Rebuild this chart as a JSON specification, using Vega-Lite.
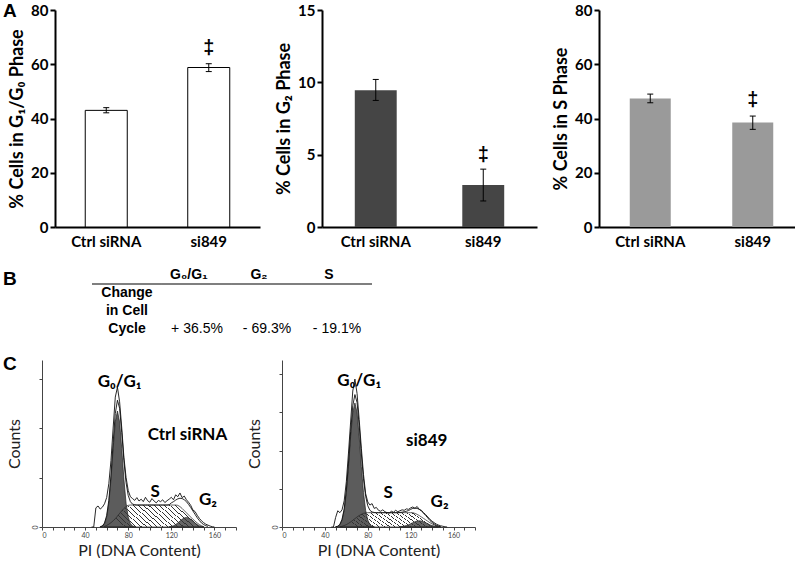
{
  "$schema": "https://vega.github.io/schema/vega-lite/v6.json",
  "padding": {"left": 3, "top": 2, "right": 0, "bottom": 0},
  "background": "white",
  "config": {
    "view": {"stroke": null},
    "font": "Lato",
    "title": {"font": "Liberation Sans", "fontSize": 19, "fontWeight": "bold", "color": "black", "anchor": "start", "frame": "group", "align": "left"}
  },
  "datasets": {
    "bars": [
      {"phase": "G1", "group": "Ctrl siRNA", "value": 43.0, "lo": 42.1, "hi": 44.0, "sig": ""},
      {"phase": "G1", "group": "si849", "value": 58.8, "lo": 57.3, "hi": 60.2, "sig": "‡"},
      {"phase": "G2", "group": "Ctrl siRNA", "value": 9.45, "lo": 8.75, "hi": 10.2, "sig": ""},
      {"phase": "G2", "group": "si849", "value": 2.9, "lo": 1.8, "hi": 4.0, "sig": "‡"},
      {"phase": "S", "group": "Ctrl siRNA", "value": 47.4, "lo": 45.8, "hi": 49.0, "sig": ""},
      {"phase": "S", "group": "si849", "value": 38.5, "lo": 36.0, "hi": 40.9, "sig": "‡"}
    ],
    "table": [
      {"col": "g01", "row": "h", "text": "G₀/G₁", "kind": "header"},
      {"col": "g2", "row": "h", "text": "G₂", "kind": "header"},
      {"col": "s", "row": "h", "text": "S", "kind": "header"},
      {"col": "label", "row": "r1", "text": "Change", "kind": "label"},
      {"col": "label", "row": "r2", "text": "in Cell", "kind": "label"},
      {"col": "label", "row": "r3", "text": "Cycle", "kind": "label"},
      {"col": "g01", "row": "r3", "text": "+ 36.5%", "kind": "value"},
      {"col": "g2", "row": "r3", "text": "- 69.3%", "kind": "value"},
      {"col": "s", "row": "r3", "text": "- 19.1%", "kind": "value"}
    ],
    "h1": [
      {"x": 46, "raw": 0, "fit": 0, "g1": 0, "s": 0, "g2": 0},
      {"x": 48, "raw": 0, "fit": 0, "g1": 0, "s": 0, "g2": 0},
      {"x": 50, "raw": 62, "fit": 0, "g1": 0, "s": 0, "g2": 0},
      {"x": 52, "raw": 68, "fit": 0, "g1": 0, "s": 0, "g2": 0},
      {"x": 54, "raw": 58, "fit": 1, "g1": 1, "s": 0, "g2": 0},
      {"x": 56, "raw": 64, "fit": 3, "g1": 3, "s": 0, "g2": 0},
      {"x": 58, "raw": 75, "fit": 13, "g1": 11, "s": 2, "g2": 0},
      {"x": 60, "raw": 95, "fit": 37, "g1": 32, "s": 5, "g2": 0},
      {"x": 62, "raw": 140, "fit": 86, "g1": 77, "s": 9, "g2": 0},
      {"x": 64, "raw": 215, "fit": 168, "g1": 154, "s": 14, "g2": 0},
      {"x": 66, "raw": 320, "fit": 273, "g1": 253, "s": 20, "g2": 0},
      {"x": 68, "raw": 420, "fit": 367, "g1": 340, "s": 27, "g2": 0},
      {"x": 70, "raw": 452, "fit": 410, "g1": 375, "s": 35, "g2": 0},
      {"x": 72, "raw": 405, "fit": 384, "g1": 340, "s": 44, "g2": 0},
      {"x": 74, "raw": 320, "fit": 305, "g1": 253, "s": 52, "g2": 0},
      {"x": 76, "raw": 225, "fit": 214, "g1": 154, "s": 60, "g2": 0},
      {"x": 78, "raw": 160, "fit": 143, "g1": 77, "s": 66, "g2": 0},
      {"x": 80, "raw": 118, "fit": 102, "g1": 32, "s": 70, "g2": 0},
      {"x": 82, "raw": 98, "fit": 82, "g1": 11, "s": 71, "g2": 0},
      {"x": 84, "raw": 92, "fit": 74, "g1": 3, "s": 71, "g2": 0},
      {"x": 86, "raw": 86, "fit": 72, "g1": 1, "s": 71, "g2": 0},
      {"x": 88, "raw": 95, "fit": 71, "g1": 0, "s": 71, "g2": 0},
      {"x": 90, "raw": 84, "fit": 71, "g1": 0, "s": 71, "g2": 0},
      {"x": 92, "raw": 90, "fit": 71, "g1": 0, "s": 71, "g2": 0},
      {"x": 94, "raw": 82, "fit": 71, "g1": 0, "s": 71, "g2": 0},
      {"x": 96, "raw": 96, "fit": 71, "g1": 0, "s": 71, "g2": 0},
      {"x": 98, "raw": 85, "fit": 71, "g1": 0, "s": 71, "g2": 0},
      {"x": 100, "raw": 80, "fit": 71, "g1": 0, "s": 71, "g2": 0},
      {"x": 102, "raw": 92, "fit": 71, "g1": 0, "s": 71, "g2": 0},
      {"x": 104, "raw": 84, "fit": 71, "g1": 0, "s": 71, "g2": 0},
      {"x": 106, "raw": 78, "fit": 71, "g1": 0, "s": 71, "g2": 0},
      {"x": 108, "raw": 86, "fit": 71, "g1": 0, "s": 71, "g2": 0},
      {"x": 110, "raw": 82, "fit": 71, "g1": 0, "s": 71, "g2": 0},
      {"x": 112, "raw": 88, "fit": 71, "g1": 0, "s": 71, "g2": 0},
      {"x": 114, "raw": 79, "fit": 71, "g1": 0, "s": 71, "g2": 0},
      {"x": 116, "raw": 85, "fit": 71, "g1": 0, "s": 71, "g2": 0},
      {"x": 118, "raw": 90, "fit": 72, "g1": 0, "s": 71, "g2": 1},
      {"x": 120, "raw": 96, "fit": 78, "g1": 0, "s": 71, "g2": 2},
      {"x": 122, "raw": 88, "fit": 82, "g1": 0, "s": 71, "g2": 4},
      {"x": 124, "raw": 104, "fit": 87, "g1": 0, "s": 71, "g2": 8},
      {"x": 126, "raw": 98, "fit": 91, "g1": 0, "s": 70, "g2": 13},
      {"x": 128, "raw": 110, "fit": 93, "g1": 0, "s": 66, "g2": 19},
      {"x": 130, "raw": 95, "fit": 92, "g1": 0, "s": 60, "g2": 25},
      {"x": 132, "raw": 100, "fit": 88, "g1": 0, "s": 53, "g2": 29},
      {"x": 134, "raw": 88, "fit": 82, "g1": 0, "s": 46, "g2": 31},
      {"x": 136, "raw": 80, "fit": 73, "g1": 0, "s": 39, "g2": 29},
      {"x": 138, "raw": 70, "fit": 63, "g1": 0, "s": 32, "g2": 25},
      {"x": 140, "raw": 55, "fit": 52, "g1": 0, "s": 25, "g2": 19},
      {"x": 142, "raw": 50, "fit": 41, "g1": 0, "s": 19, "g2": 13},
      {"x": 144, "raw": 38, "fit": 30, "g1": 0, "s": 13, "g2": 8},
      {"x": 146, "raw": 28, "fit": 21, "g1": 0, "s": 8, "g2": 4},
      {"x": 148, "raw": 20, "fit": 13, "g1": 0, "s": 4, "g2": 2},
      {"x": 150, "raw": 14, "fit": 8, "g1": 0, "s": 1, "g2": 1},
      {"x": 152, "raw": 9, "fit": 4, "g1": 0, "s": 0, "g2": 0},
      {"x": 154, "raw": 6, "fit": 2, "g1": 0, "s": 0, "g2": 0},
      {"x": 156, "raw": 3, "fit": 0, "g1": 0, "s": 0, "g2": 0},
      {"x": 158, "raw": 1, "fit": 0, "g1": 0, "s": 0, "g2": 0},
      {"x": 160, "raw": 0, "fit": 0, "g1": 0, "s": 0, "g2": 0}
    ],
    "h2": [
      {"x": 46, "raw": 0, "fit": 0, "g1": 0, "s": 0, "g2": 0},
      {"x": 48, "raw": 0, "fit": 0, "g1": 0, "s": 0, "g2": 0},
      {"x": 50, "raw": 40, "fit": 1, "g1": 1, "s": 0, "g2": 0},
      {"x": 52, "raw": 68, "fit": 3, "g1": 3, "s": 0, "g2": 0},
      {"x": 54, "raw": 60, "fit": 11, "g1": 10, "s": 1, "g2": 0},
      {"x": 56, "raw": 72, "fit": 32, "g1": 29, "s": 3, "g2": 0},
      {"x": 58, "raw": 110, "fit": 76, "g1": 70, "s": 6, "g2": 0},
      {"x": 60, "raw": 190, "fit": 155, "g1": 145, "s": 10, "g2": 0},
      {"x": 62, "raw": 310, "fit": 268, "g1": 253, "s": 15, "g2": 0},
      {"x": 64, "raw": 440, "fit": 399, "g1": 378, "s": 21, "g2": 0},
      {"x": 66, "raw": 570, "fit": 508, "g1": 480, "s": 28, "g2": 0},
      {"x": 68, "raw": 620, "fit": 555, "g1": 520, "s": 35, "g2": 0},
      {"x": 70, "raw": 560, "fit": 522, "g1": 480, "s": 42, "g2": 0},
      {"x": 72, "raw": 450, "fit": 426, "g1": 378, "s": 48, "g2": 0},
      {"x": 74, "raw": 330, "fit": 306, "g1": 253, "s": 53, "g2": 0},
      {"x": 76, "raw": 220, "fit": 202, "g1": 145, "s": 57, "g2": 0},
      {"x": 78, "raw": 140, "fit": 129, "g1": 70, "s": 59, "g2": 0},
      {"x": 80, "raw": 105, "fit": 89, "g1": 29, "s": 60, "g2": 0},
      {"x": 82, "raw": 92, "fit": 70, "g1": 10, "s": 60, "g2": 0},
      {"x": 84, "raw": 98, "fit": 63, "g1": 3, "s": 60, "g2": 0},
      {"x": 86, "raw": 78, "fit": 61, "g1": 1, "s": 60, "g2": 0},
      {"x": 88, "raw": 82, "fit": 60, "g1": 0, "s": 60, "g2": 0},
      {"x": 90, "raw": 70, "fit": 60, "g1": 0, "s": 60, "g2": 0},
      {"x": 92, "raw": 66, "fit": 60, "g1": 0, "s": 60, "g2": 0},
      {"x": 94, "raw": 72, "fit": 60, "g1": 0, "s": 60, "g2": 0},
      {"x": 96, "raw": 64, "fit": 60, "g1": 0, "s": 60, "g2": 0},
      {"x": 98, "raw": 60, "fit": 60, "g1": 0, "s": 60, "g2": 0},
      {"x": 100, "raw": 58, "fit": 60, "g1": 0, "s": 60, "g2": 0},
      {"x": 102, "raw": 66, "fit": 60, "g1": 0, "s": 60, "g2": 0},
      {"x": 104, "raw": 62, "fit": 60, "g1": 0, "s": 60, "g2": 0},
      {"x": 106, "raw": 70, "fit": 60, "g1": 0, "s": 60, "g2": 0},
      {"x": 108, "raw": 64, "fit": 60, "g1": 0, "s": 60, "g2": 0},
      {"x": 110, "raw": 68, "fit": 61, "g1": 0, "s": 60, "g2": 1},
      {"x": 112, "raw": 72, "fit": 62, "g1": 0, "s": 60, "g2": 2},
      {"x": 114, "raw": 70, "fit": 64, "g1": 0, "s": 60, "g2": 4},
      {"x": 116, "raw": 76, "fit": 66, "g1": 0, "s": 60, "g2": 6},
      {"x": 118, "raw": 74, "fit": 69, "g1": 0, "s": 60, "g2": 9},
      {"x": 120, "raw": 80, "fit": 74, "g1": 0, "s": 60, "g2": 14},
      {"x": 122, "raw": 84, "fit": 78, "g1": 0, "s": 60, "g2": 18},
      {"x": 124, "raw": 78, "fit": 79, "g1": 0, "s": 57, "g2": 22},
      {"x": 126, "raw": 86, "fit": 78, "g1": 0, "s": 53, "g2": 25},
      {"x": 128, "raw": 74, "fit": 74, "g1": 0, "s": 48, "g2": 26},
      {"x": 130, "raw": 70, "fit": 67, "g1": 0, "s": 42, "g2": 25},
      {"x": 132, "raw": 60, "fit": 58, "g1": 0, "s": 36, "g2": 22},
      {"x": 134, "raw": 52, "fit": 48, "g1": 0, "s": 30, "g2": 18},
      {"x": 136, "raw": 42, "fit": 38, "g1": 0, "s": 24, "g2": 14},
      {"x": 138, "raw": 32, "fit": 27, "g1": 0, "s": 18, "g2": 9},
      {"x": 140, "raw": 24, "fit": 19, "g1": 0, "s": 13, "g2": 6},
      {"x": 142, "raw": 18, "fit": 13, "g1": 0, "s": 9, "g2": 4},
      {"x": 144, "raw": 12, "fit": 7, "g1": 0, "s": 5, "g2": 2},
      {"x": 146, "raw": 8, "fit": 4, "g1": 0, "s": 3, "g2": 1},
      {"x": 148, "raw": 5, "fit": 1, "g1": 0, "s": 1, "g2": 0},
      {"x": 150, "raw": 3, "fit": 0, "g1": 0, "s": 0, "g2": 0},
      {"x": 152, "raw": 1, "fit": 0, "g1": 0, "s": 0, "g2": 0},
      {"x": 154, "raw": 0, "fit": 0, "g1": 0, "s": 0, "g2": 0}
    ],
    "lab1": [
      {"label": "G₀/G₁", "x": 72, "y": 470},
      {"label": "Ctrl siRNA", "x": 135, "y": 297},
      {"label": "S", "x": 105, "y": 114},
      {"label": "G₂", "x": 154, "y": 87}
    ],
    "lab2": [
      {"label": "G₀/G₁", "x": 72, "y": 612},
      {"label": "si849", "x": 135, "y": 362},
      {"label": "S", "x": 99, "y": 142},
      {"label": "G₂", "x": 147, "y": 105}
    ]
  },
  "spacing": 17,
  "vconcat": [
    {
      "spacing": 15,
      "hconcat": [
        {
          "width": 218, "height": 217,
          "title": {"text": "A", "dx": -39, "offset": -18},
          "data": {"name": "bars"},
          "transform": [{"filter": "datum.phase === 'G1'"}],
          "encoding": {
            "x": {"field": "group", "type": "nominal", "sort": null, "scale": {"range": [13, 218], "paddingInner": 0, "paddingOuter": 0},
              "axis": {"title": null, "labelAngle": 0, "ticks": false, "domainColor": "black", "domainWidth": 2, "labelFont": "Lato", "labelFontSize": 15, "labelFontWeight": "bold", "labelColor": "black", "labelPadding": 7}}
          },
          "layer": [
            {"mark": {"type": "bar", "fill": "white", "stroke": "black", "strokeWidth": 1, "width": {"band": 0.41}},
             "encoding": {"y": {"field": "value", "type": "quantitative", "scale": {"domain": [0, 80], "nice": false},
               "axis": {"title": "% Cells in G₁/G₀ Phase", "offset": -13, "values": [0, 20, 40, 60, 80], "grid": false, "domainColor": "black", "domainWidth": 2, "tickColor": "black", "tickWidth": 2, "tickSize": 5, "labelFont": "Lato", "labelFontSize": 15, "labelFontWeight": "bold", "labelColor": "black", "labelPadding": 2, "titleFont": "Lato", "titleFontSize": 18, "titleFontWeight": "bold", "titleColor": "black", "titlePadding": 4}}}},
            {"mark": {"type": "rule", "color": "black", "strokeWidth": 1}, "encoding": {"y": {"field": "lo", "type": "quantitative", "title": "% Cells in G₁/G₀ Phase"}, "y2": {"field": "hi"}}},
            {"mark": {"type": "tick", "color": "black", "thickness": 1, "size": 6, "opacity": 1}, "encoding": {"y": {"field": "lo", "type": "quantitative", "title": "% Cells in G₁/G₀ Phase"}}},
            {"mark": {"type": "tick", "color": "black", "thickness": 1, "size": 6, "opacity": 1}, "encoding": {"y": {"field": "hi", "type": "quantitative", "title": "% Cells in G₁/G₀ Phase"}}},
            {"transform": [{"filter": "datum.sig !== ''"}], "mark": {"type": "text", "font": "Liberation Sans", "fontWeight": "bold", "fontSize": 20, "dy": -16, "baseline": "middle"},
             "encoding": {"y": {"field": "hi", "type": "quantitative", "title": "% Cells in G₁/G₀ Phase"}, "text": {"field": "sig"}}}
          ]
        },
        {
          "width": 215, "height": 217,
          "data": {"name": "bars"},
          "transform": [{"filter": "datum.phase === 'G2'"}],
          "encoding": {
            "x": {"field": "group", "type": "nominal", "sort": null, "scale": {"paddingInner": 0, "paddingOuter": 0},
              "axis": {"title": null, "labelAngle": 0, "ticks": false, "domainColor": "black", "domainWidth": 2, "labelFont": "Lato", "labelFontSize": 15, "labelFontWeight": "bold", "labelColor": "black", "labelPadding": 7}}
          },
          "layer": [
            {"mark": {"type": "bar", "fill": "#454545", "width": {"band": 0.39}},
             "encoding": {"y": {"field": "value", "type": "quantitative", "scale": {"domain": [0, 15], "nice": false},
               "axis": {"title": "% Cells in G₂ Phase", "values": [0, 5, 10, 15], "grid": false, "domainColor": "black", "domainWidth": 2, "tickColor": "black", "tickWidth": 2, "tickSize": 5, "labelFont": "Lato", "labelFontSize": 15, "labelFontWeight": "bold", "labelColor": "black", "labelPadding": 2, "titleFont": "Lato", "titleFontSize": 18, "titleFontWeight": "bold", "titleColor": "black", "titlePadding": 4}}}},
            {"mark": {"type": "rule", "color": "black", "strokeWidth": 1}, "encoding": {"y": {"field": "lo", "type": "quantitative", "title": "% Cells in G₂ Phase"}, "y2": {"field": "hi"}}},
            {"mark": {"type": "tick", "color": "black", "thickness": 1, "size": 6, "opacity": 1}, "encoding": {"y": {"field": "lo", "type": "quantitative", "title": "% Cells in G₂ Phase"}}},
            {"mark": {"type": "tick", "color": "black", "thickness": 1, "size": 6, "opacity": 1}, "encoding": {"y": {"field": "hi", "type": "quantitative", "title": "% Cells in G₂ Phase"}}},
            {"transform": [{"filter": "datum.sig !== ''"}], "mark": {"type": "text", "font": "Liberation Sans", "fontWeight": "bold", "fontSize": 20, "dy": -14, "baseline": "middle"},
             "encoding": {"y": {"field": "hi", "type": "quantitative", "title": "% Cells in G₂ Phase"}, "text": {"field": "sig"}}}
          ]
        },
        {
          "width": 205, "height": 217,
          "data": {"name": "bars"},
          "transform": [{"filter": "datum.phase === 'S'"}],
          "encoding": {
            "x": {"field": "group", "type": "nominal", "sort": null, "scale": {"paddingInner": 0, "paddingOuter": 0},
              "axis": {"title": null, "labelAngle": 0, "ticks": false, "domainColor": "black", "domainWidth": 2, "labelFont": "Lato", "labelFontSize": 15, "labelFontWeight": "bold", "labelColor": "black", "labelPadding": 7}}
          },
          "layer": [
            {"mark": {"type": "bar", "fill": "#9a9a9a", "width": {"band": 0.4}},
             "encoding": {"y": {"field": "value", "type": "quantitative", "scale": {"domain": [0, 80], "nice": false},
               "axis": {"title": "% Cells in S Phase", "values": [0, 20, 40, 60, 80], "grid": false, "domainColor": "black", "domainWidth": 2, "tickColor": "black", "tickWidth": 2, "tickSize": 5, "labelFont": "Lato", "labelFontSize": 15, "labelFontWeight": "bold", "labelColor": "black", "labelPadding": 2, "titleFont": "Lato", "titleFontSize": 18, "titleFontWeight": "bold", "titleColor": "black", "titlePadding": 4}}}},
            {"mark": {"type": "rule", "color": "black", "strokeWidth": 1}, "encoding": {"y": {"field": "lo", "type": "quantitative", "title": "% Cells in S Phase"}, "y2": {"field": "hi"}}},
            {"mark": {"type": "tick", "color": "black", "thickness": 1, "size": 6, "opacity": 1}, "encoding": {"y": {"field": "lo", "type": "quantitative", "title": "% Cells in S Phase"}}},
            {"mark": {"type": "tick", "color": "black", "thickness": 1, "size": 6, "opacity": 1}, "encoding": {"y": {"field": "hi", "type": "quantitative", "title": "% Cells in S Phase"}}},
            {"transform": [{"filter": "datum.sig !== ''"}], "mark": {"type": "text", "font": "Liberation Sans", "fontWeight": "bold", "fontSize": 20, "dy": -16, "baseline": "middle"},
             "encoding": {"y": {"field": "hi", "type": "quantitative", "title": "% Cells in S Phase"}, "text": {"field": "sig"}}}
          ]
        }
      ]
    },
    {
      "width": 330, "height": 72,
      "title": {"text": "B", "dx": -39, "offset": -23},
      "layer": [
        {"data": {"name": "table"}, "transform": [{"filter": "datum.kind === 'header'"}],
         "mark": {"type": "text", "font": "Liberation Sans", "fontWeight": "bold", "fontSize": 14, "dx": -8},
         "encoding": {
           "x": {"field": "col", "type": "nominal", "scale": {"domain": ["label", "g01", "g2", "s"], "paddingInner": 0, "paddingOuter": 0.357, "align": 1}, "axis": null},
           "y": {"field": "row", "type": "nominal", "scale": {"domain": ["h", "r1", "r2", "r3"], "paddingInner": 0, "paddingOuter": 0}, "axis": null},
           "text": {"field": "text"}}},
        {"data": {"name": "table"}, "transform": [{"filter": "datum.kind === 'label'"}],
         "mark": {"type": "text", "font": "Liberation Sans", "fontWeight": "bold", "fontSize": 14},
         "encoding": {
           "x": {"field": "col", "type": "nominal", "axis": null},
           "y": {"field": "row", "type": "nominal", "axis": null},
           "text": {"field": "text"}}},
        {"data": {"name": "table"}, "transform": [{"filter": "datum.kind === 'value'"}],
         "mark": {"type": "text", "font": "Liberation Sans", "fontSize": 14},
         "encoding": {
           "x": {"field": "col", "type": "nominal", "axis": null},
           "y": {"field": "row", "type": "nominal", "axis": null},
           "text": {"field": "text"}}},
        {"data": {"values": [{"col": "label"}, {"col": "g01"}, {"col": "g2"}, {"col": "s"}]},
         "mark": {"type": "tick", "orient": "horizontal", "size": 70, "thickness": 1.2, "color": "black", "opacity": 1},
         "encoding": {
           "x": {"field": "col", "type": "nominal", "axis": null},
           "y": {"datum": "r1", "type": "nominal", "bandPosition": 0, "axis": null}}}
      ]
    },
    {
      "spacing": 9,
      "hconcat": [
        {
          "width": 194, "height": 167,
          "title": {"text": "C", "dx": -39, "offset": -14},
          "encoding": {
            "x": {"field": "x", "type": "quantitative", "scale": {"domain": [0, 180], "nice": false},
              "axis": {"title": "PI (DNA Content)", "values": [0, 10, 20, 30, 40, 50, 60, 70, 80, 90, 100, 110, 120, 130, 140, 150, 160, 170, 180], "labelExpr": "datum.value % 40 === 0 ? datum.label : ''", "grid": false, "tickSize": 3, "tickColor": "#444", "domainColor": "#444", "labelFontSize": 7, "labelColor": "#444", "labelPadding": 1, "titleFont": "Lato", "titleFontSize": 16, "titleFontWeight": "normal", "titleColor": "#222", "titlePadding": 4}}
          },
          "layer": [
            {"data": {"name": "h1"}, "transform": [{"filter": "datum.g1 > 0"}],
             "mark": {"type": "area", "fill": "#5c5c5c", "stroke": "#222", "strokeWidth": 0.7},
             "encoding": {"y": {"field": "g1", "type": "quantitative", "scale": {"domain": [0, 540], "nice": false},
               "axis": {"title": "Counts", "values": [0, 20, 40, 60, 80, 100, 120, 140, 160, 180, 200, 220, 240, 260, 280, 300, 320, 340, 360, 380, 400, 420, 440, 460, 480, 500, 520], "labelExpr": "datum.value % 100 === 0 ? datum.label : ''", "labelAngle": 270, "grid": false, "tickSize": 3, "tickColor": "#444", "domainColor": "#444", "labelFontSize": 7, "labelColor": "#444", "labelPadding": 1, "titleFont": "Lato", "titleFontSize": 16, "titleFontWeight": "normal", "titleColor": "#222", "titlePadding": 9}}}},
            {"data": {"name": "h1"}, "transform": [{"filter": "datum.g2 > 0"}],
             "mark": {"type": "area", "fill": "#666666", "stroke": "#222", "strokeWidth": 0.7},
             "encoding": {"y": {"field": "g2", "type": "quantitative", "title": "Counts"}}},
            {"data": {"name": "h1"}, "transform": [{"filter": "datum.s > 0"}],
             "mark": {"type": "area", "stroke": "#222", "strokeWidth": 0.7, "fill": {"gradient": "linear", "x1": 0, "y1": 0.25, "x2": 1, "y2": 0, "stops": [
               {"offset": 0, "color": "rgba(0,0,0,0)"},
               {"offset": 0.02, "color": "rgba(0,0,0,0)"}, {"offset": 0.02, "color": "#333"}, {"offset": 0.03, "color": "#333"}, {"offset": 0.03, "color": "rgba(0,0,0,0)"},
               {"offset": 0.07, "color": "rgba(0,0,0,0)"}, {"offset": 0.07, "color": "#333"}, {"offset": 0.08, "color": "#333"}, {"offset": 0.08, "color": "rgba(0,0,0,0)"},
               {"offset": 0.12, "color": "rgba(0,0,0,0)"}, {"offset": 0.12, "color": "#333"}, {"offset": 0.13, "color": "#333"}, {"offset": 0.13, "color": "rgba(0,0,0,0)"},
               {"offset": 0.17, "color": "rgba(0,0,0,0)"}, {"offset": 0.17, "color": "#333"}, {"offset": 0.18, "color": "#333"}, {"offset": 0.18, "color": "rgba(0,0,0,0)"},
               {"offset": 0.22, "color": "rgba(0,0,0,0)"}, {"offset": 0.22, "color": "#333"}, {"offset": 0.23, "color": "#333"}, {"offset": 0.23, "color": "rgba(0,0,0,0)"},
               {"offset": 0.27, "color": "rgba(0,0,0,0)"}, {"offset": 0.27, "color": "#333"}, {"offset": 0.28, "color": "#333"}, {"offset": 0.28, "color": "rgba(0,0,0,0)"},
               {"offset": 0.32, "color": "rgba(0,0,0,0)"}, {"offset": 0.32, "color": "#333"}, {"offset": 0.33, "color": "#333"}, {"offset": 0.33, "color": "rgba(0,0,0,0)"},
               {"offset": 0.37, "color": "rgba(0,0,0,0)"}, {"offset": 0.37, "color": "#333"}, {"offset": 0.38, "color": "#333"}, {"offset": 0.38, "color": "rgba(0,0,0,0)"},
               {"offset": 0.42, "color": "rgba(0,0,0,0)"}, {"offset": 0.42, "color": "#333"}, {"offset": 0.43, "color": "#333"}, {"offset": 0.43, "color": "rgba(0,0,0,0)"},
               {"offset": 0.47, "color": "rgba(0,0,0,0)"}, {"offset": 0.47, "color": "#333"}, {"offset": 0.48, "color": "#333"}, {"offset": 0.48, "color": "rgba(0,0,0,0)"},
               {"offset": 0.52, "color": "rgba(0,0,0,0)"}, {"offset": 0.52, "color": "#333"}, {"offset": 0.53, "color": "#333"}, {"offset": 0.53, "color": "rgba(0,0,0,0)"},
               {"offset": 0.57, "color": "rgba(0,0,0,0)"}, {"offset": 0.57, "color": "#333"}, {"offset": 0.58, "color": "#333"}, {"offset": 0.58, "color": "rgba(0,0,0,0)"},
               {"offset": 0.62, "color": "rgba(0,0,0,0)"}, {"offset": 0.62, "color": "#333"}, {"offset": 0.63, "color": "#333"}, {"offset": 0.63, "color": "rgba(0,0,0,0)"},
               {"offset": 0.67, "color": "rgba(0,0,0,0)"}, {"offset": 0.67, "color": "#333"}, {"offset": 0.68, "color": "#333"}, {"offset": 0.68, "color": "rgba(0,0,0,0)"},
               {"offset": 0.72, "color": "rgba(0,0,0,0)"}, {"offset": 0.72, "color": "#333"}, {"offset": 0.73, "color": "#333"}, {"offset": 0.73, "color": "rgba(0,0,0,0)"},
               {"offset": 0.77, "color": "rgba(0,0,0,0)"}, {"offset": 0.77, "color": "#333"}, {"offset": 0.78, "color": "#333"}, {"offset": 0.78, "color": "rgba(0,0,0,0)"},
               {"offset": 0.82, "color": "rgba(0,0,0,0)"}, {"offset": 0.82, "color": "#333"}, {"offset": 0.83, "color": "#333"}, {"offset": 0.83, "color": "rgba(0,0,0,0)"},
               {"offset": 0.87, "color": "rgba(0,0,0,0)"}, {"offset": 0.87, "color": "#333"}, {"offset": 0.88, "color": "#333"}, {"offset": 0.88, "color": "rgba(0,0,0,0)"},
               {"offset": 0.92, "color": "rgba(0,0,0,0)"}, {"offset": 0.92, "color": "#333"}, {"offset": 0.93, "color": "#333"}, {"offset": 0.93, "color": "rgba(0,0,0,0)"},
               {"offset": 0.97, "color": "rgba(0,0,0,0)"}, {"offset": 0.97, "color": "#333"}, {"offset": 0.98, "color": "#333"}, {"offset": 0.98, "color": "rgba(0,0,0,0)"},
               {"offset": 1, "color": "rgba(0,0,0,0)"}]}},
             "encoding": {"y": {"field": "s", "type": "quantitative", "title": "Counts"}}},
            {"data": {"name": "h1"}, "transform": [{"filter": "datum.fit > 0"}],
             "mark": {"type": "line", "color": "#111", "strokeWidth": 0.9},
             "encoding": {"y": {"field": "fit", "type": "quantitative", "title": "Counts"}}},
            {"data": {"name": "h1"},
             "mark": {"type": "line", "color": "#111", "strokeWidth": 0.9},
             "encoding": {"y": {"field": "raw", "type": "quantitative", "title": "Counts"}}},
            {"data": {"name": "lab1"},
             "mark": {"type": "text", "font": "Lato", "fontWeight": "bold", "fontSize": 17, "color": "black"},
             "encoding": {"y": {"field": "y", "type": "quantitative", "title": "Counts"}, "text": {"field": "label"}}}
          ]
        },
        {
          "width": 193, "height": 167,
          "encoding": {
            "x": {"field": "x", "type": "quantitative", "scale": {"domain": [0, 180], "nice": false},
              "axis": {"title": "PI (DNA Content)", "values": [0, 10, 20, 30, 40, 50, 60, 70, 80, 90, 100, 110, 120, 130, 140, 150, 160, 170, 180], "labelExpr": "datum.value % 40 === 0 ? datum.label : ''", "grid": false, "tickSize": 3, "tickColor": "#444", "domainColor": "#444", "labelFontSize": 7, "labelColor": "#444", "labelPadding": 1, "titleFont": "Lato", "titleFontSize": 16, "titleFontWeight": "normal", "titleColor": "#222", "titlePadding": 4}}
          },
          "layer": [
            {"data": {"name": "h2"}, "transform": [{"filter": "datum.g1 > 0"}],
             "mark": {"type": "area", "fill": "#5c5c5c", "stroke": "#222", "strokeWidth": 0.7},
             "encoding": {"y": {"field": "g1", "type": "quantitative", "scale": {"domain": [0, 700], "nice": false},
               "axis": {"title": "Counts", "values": [0, 20, 40, 60, 80, 100, 120, 140, 160, 180, 200, 220, 240, 260, 280, 300, 320, 340, 360, 380, 400, 420, 440, 460, 480, 500, 520, 540, 560, 580, 600, 620, 640, 660, 680], "labelExpr": "datum.value % 100 === 0 ? datum.label : ''", "labelAngle": 270, "grid": false, "tickSize": 3, "tickColor": "#444", "domainColor": "#444", "labelFontSize": 7, "labelColor": "#444", "labelPadding": 1, "titleFont": "Lato", "titleFontSize": 16, "titleFontWeight": "normal", "titleColor": "#222", "titlePadding": 9}}}},
            {"data": {"name": "h2"}, "transform": [{"filter": "datum.g2 > 0"}],
             "mark": {"type": "area", "fill": "#666666", "stroke": "#222", "strokeWidth": 0.7},
             "encoding": {"y": {"field": "g2", "type": "quantitative", "title": "Counts"}}},
            {"data": {"name": "h2"}, "transform": [{"filter": "datum.s > 0"}],
             "mark": {"type": "area", "stroke": "#222", "strokeWidth": 0.7, "fill": {"gradient": "linear", "x1": 0, "y1": 0.2, "x2": 1, "y2": 0, "stops": [
               {"offset": 0, "color": "rgba(0,0,0,0)"},
               {"offset": 0.02, "color": "rgba(0,0,0,0)"}, {"offset": 0.02, "color": "#333"}, {"offset": 0.03, "color": "#333"}, {"offset": 0.03, "color": "rgba(0,0,0,0)"},
               {"offset": 0.07, "color": "rgba(0,0,0,0)"}, {"offset": 0.07, "color": "#333"}, {"offset": 0.08, "color": "#333"}, {"offset": 0.08, "color": "rgba(0,0,0,0)"},
               {"offset": 0.12, "color": "rgba(0,0,0,0)"}, {"offset": 0.12, "color": "#333"}, {"offset": 0.13, "color": "#333"}, {"offset": 0.13, "color": "rgba(0,0,0,0)"},
               {"offset": 0.17, "color": "rgba(0,0,0,0)"}, {"offset": 0.17, "color": "#333"}, {"offset": 0.18, "color": "#333"}, {"offset": 0.18, "color": "rgba(0,0,0,0)"},
               {"offset": 0.22, "color": "rgba(0,0,0,0)"}, {"offset": 0.22, "color": "#333"}, {"offset": 0.23, "color": "#333"}, {"offset": 0.23, "color": "rgba(0,0,0,0)"},
               {"offset": 0.27, "color": "rgba(0,0,0,0)"}, {"offset": 0.27, "color": "#333"}, {"offset": 0.28, "color": "#333"}, {"offset": 0.28, "color": "rgba(0,0,0,0)"},
               {"offset": 0.32, "color": "rgba(0,0,0,0)"}, {"offset": 0.32, "color": "#333"}, {"offset": 0.33, "color": "#333"}, {"offset": 0.33, "color": "rgba(0,0,0,0)"},
               {"offset": 0.37, "color": "rgba(0,0,0,0)"}, {"offset": 0.37, "color": "#333"}, {"offset": 0.38, "color": "#333"}, {"offset": 0.38, "color": "rgba(0,0,0,0)"},
               {"offset": 0.42, "color": "rgba(0,0,0,0)"}, {"offset": 0.42, "color": "#333"}, {"offset": 0.43, "color": "#333"}, {"offset": 0.43, "color": "rgba(0,0,0,0)"},
               {"offset": 0.47, "color": "rgba(0,0,0,0)"}, {"offset": 0.47, "color": "#333"}, {"offset": 0.48, "color": "#333"}, {"offset": 0.48, "color": "rgba(0,0,0,0)"},
               {"offset": 0.52, "color": "rgba(0,0,0,0)"}, {"offset": 0.52, "color": "#333"}, {"offset": 0.53, "color": "#333"}, {"offset": 0.53, "color": "rgba(0,0,0,0)"},
               {"offset": 0.57, "color": "rgba(0,0,0,0)"}, {"offset": 0.57, "color": "#333"}, {"offset": 0.58, "color": "#333"}, {"offset": 0.58, "color": "rgba(0,0,0,0)"},
               {"offset": 0.62, "color": "rgba(0,0,0,0)"}, {"offset": 0.62, "color": "#333"}, {"offset": 0.63, "color": "#333"}, {"offset": 0.63, "color": "rgba(0,0,0,0)"},
               {"offset": 0.67, "color": "rgba(0,0,0,0)"}, {"offset": 0.67, "color": "#333"}, {"offset": 0.68, "color": "#333"}, {"offset": 0.68, "color": "rgba(0,0,0,0)"},
               {"offset": 0.72, "color": "rgba(0,0,0,0)"}, {"offset": 0.72, "color": "#333"}, {"offset": 0.73, "color": "#333"}, {"offset": 0.73, "color": "rgba(0,0,0,0)"},
               {"offset": 0.77, "color": "rgba(0,0,0,0)"}, {"offset": 0.77, "color": "#333"}, {"offset": 0.78, "color": "#333"}, {"offset": 0.78, "color": "rgba(0,0,0,0)"},
               {"offset": 0.82, "color": "rgba(0,0,0,0)"}, {"offset": 0.82, "color": "#333"}, {"offset": 0.83, "color": "#333"}, {"offset": 0.83, "color": "rgba(0,0,0,0)"},
               {"offset": 0.87, "color": "rgba(0,0,0,0)"}, {"offset": 0.87, "color": "#333"}, {"offset": 0.88, "color": "#333"}, {"offset": 0.88, "color": "rgba(0,0,0,0)"},
               {"offset": 0.92, "color": "rgba(0,0,0,0)"}, {"offset": 0.92, "color": "#333"}, {"offset": 0.93, "color": "#333"}, {"offset": 0.93, "color": "rgba(0,0,0,0)"},
               {"offset": 0.97, "color": "rgba(0,0,0,0)"}, {"offset": 0.97, "color": "#333"}, {"offset": 0.98, "color": "#333"}, {"offset": 0.98, "color": "rgba(0,0,0,0)"},
               {"offset": 1, "color": "rgba(0,0,0,0)"}]}},
             "encoding": {"y": {"field": "s", "type": "quantitative", "title": "Counts"}}},
            {"data": {"name": "h2"}, "transform": [{"filter": "datum.fit > 0"}],
             "mark": {"type": "line", "color": "#111", "strokeWidth": 0.9},
             "encoding": {"y": {"field": "fit", "type": "quantitative", "title": "Counts"}}},
            {"data": {"name": "h2"},
             "mark": {"type": "line", "color": "#111", "strokeWidth": 0.9},
             "encoding": {"y": {"field": "raw", "type": "quantitative", "title": "Counts"}}},
            {"data": {"name": "lab2"},
             "mark": {"type": "text", "font": "Lato", "fontWeight": "bold", "fontSize": 17, "color": "black"},
             "encoding": {"y": {"field": "y", "type": "quantitative", "title": "Counts"}, "text": {"field": "label"}}}
          ]
        }
      ]
    }
  ]
}
